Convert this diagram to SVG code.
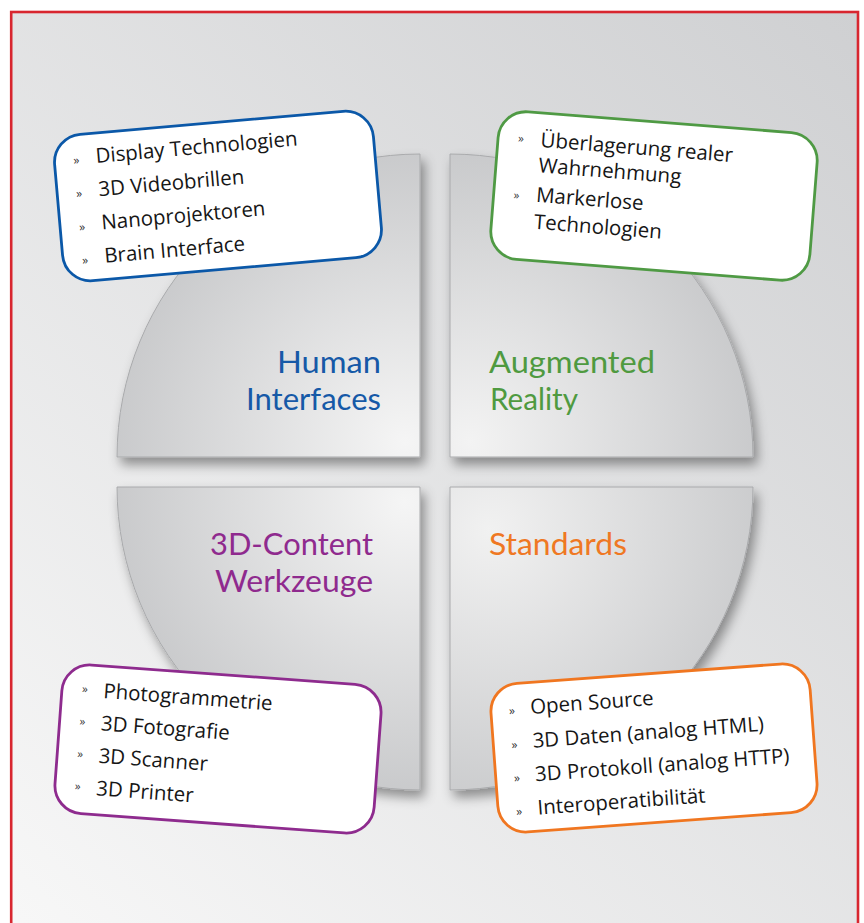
<svg xmlns="http://www.w3.org/2000/svg" width="864" height="923" viewBox="0 0 864 923">
  <defs>
    <linearGradient id="bg" x1="860" y1="15" x2="15" y2="915" gradientUnits="userSpaceOnUse">
      <stop offset="0" stop-color="#cfd0d2"/>
      <stop offset="1" stop-color="#f7f7f7"/>
    </linearGradient>
    <radialGradient id="gTL" cx="405" cy="442" r="330" gradientUnits="userSpaceOnUse">
      <stop offset="0" stop-color="#f5f5f5"/>
      <stop offset="1" stop-color="#c3c4c6"/>
    </radialGradient>
    <radialGradient id="gTR" cx="470" cy="442" r="330" gradientUnits="userSpaceOnUse">
      <stop offset="0" stop-color="#f3f3f3"/>
      <stop offset="1" stop-color="#c3c4c6"/>
    </radialGradient>
    <radialGradient id="gBL" cx="405" cy="502" r="330" gradientUnits="userSpaceOnUse">
      <stop offset="0" stop-color="#f5f5f5"/>
      <stop offset="1" stop-color="#c3c4c6"/>
    </radialGradient>
    <radialGradient id="gBR" cx="490" cy="530" r="330" gradientUnits="userSpaceOnUse">
      <stop offset="0" stop-color="#f1f1f1"/>
      <stop offset="1" stop-color="#c3c4c6"/>
    </radialGradient>
    <filter id="shadow" x="-20%" y="-20%" width="140%" height="140%">
      <feDropShadow dx="4" dy="7" stdDeviation="6" flood-color="#000" flood-opacity="0.4"/>
    </filter>
    <style>
      .quad { stroke: #a9aaac; stroke-width: 1; filter: url(#shadow); }
      .label { font-family: "Lato", "Open Sans", "Liberation Sans", sans-serif; font-size: 30px; }
      .box { fill: #ffffff; stroke-width: 2.8; }
      .item { font-family: "Open Sans", "Liberation Sans", sans-serif; font-size: 20.5px; fill: #161616; }
      .bul { font-family: "Open Sans", "Liberation Sans", sans-serif; font-size: 12px; fill: #333333; }
    </style>
  </defs>

  <rect x="11.2" y="12" width="846.8" height="930" fill="url(#bg)" stroke="#d8262f" stroke-width="2.6"/>

  <g id="quadrants">
    <g id="q-human">
      <path class="quad" d="M420,457 H117 A303,303 0 0 1 420,154 Z" fill="url(#gTL)"/>
      <text class="label" fill="#1659a7" text-anchor="end" x="381" y="373" textLength="104" lengthAdjust="spacingAndGlyphs">Human</text>
      <text class="label" fill="#1659a7" text-anchor="end" x="381" y="410" textLength="135" lengthAdjust="spacingAndGlyphs">Interfaces</text>
    </g>
    <g id="q-ar">
      <path class="quad" d="M450,457 V154 A303,303 0 0 1 753,457 Z" fill="url(#gTR)"/>
      <text class="label" fill="#4f9a40" x="489" y="373" textLength="166" lengthAdjust="spacingAndGlyphs">Augmented</text>
      <text class="label" fill="#4f9a40" x="490" y="410" textLength="88" lengthAdjust="spacingAndGlyphs">Reality</text>
    </g>
    <g id="q-content">
      <path class="quad" d="M420,487 H117 A303,303 0 0 0 420,790 Z" fill="url(#gBL)"/>
      <text class="label" fill="#8f2a8e" text-anchor="end" x="373" y="555" textLength="163" lengthAdjust="spacingAndGlyphs">3D-Content</text>
      <text class="label" fill="#8f2a8e" text-anchor="end" x="373" y="592" textLength="158" lengthAdjust="spacingAndGlyphs">Werkzeuge</text>
    </g>
    <g id="q-standards">
      <path class="quad" d="M450,487 H753 A303,303 0 0 1 450,790 Z" fill="url(#gBR)"/>
      <text class="label" fill="#ef7823" x="489" y="555" textLength="138" lengthAdjust="spacingAndGlyphs">Standards</text>
    </g>
  </g>

  <g id="connectors"/>

  <g id="box-human" transform="rotate(-5 218 196)">
    <rect class="box" stroke="#0b58a8" x="58" y="122.5" width="320" height="147" rx="28"/>
    <text class="bul" x="77" y="152">»</text>
    <text class="item" x="99.5" y="152.5">Display Technologien</text>
    <text class="bul" x="77" y="185.5">»</text>
    <text class="item" x="99.5" y="186">3D Videobrillen</text>
    <text class="bul" x="77" y="219">»</text>
    <text class="item" x="99.5" y="219.3">Nanoprojektoren</text>
    <text class="bul" x="77" y="252.5">»</text>
    <text class="item" x="99.5" y="252.7">Brain Interface</text>
  </g>

  <g id="box-ar" transform="rotate(4.5 654 196)">
    <rect class="box" stroke="#4f9a44" x="494" y="122" width="320" height="148" rx="28"/>
    <text class="bul" x="514" y="153">»</text>
    <text class="item" x="536.5" y="156">Überlagerung realer</text>
    <text class="item" x="536.5" y="181.5">Wahrnehmung</text>
    <text class="bul" x="514" y="210">»</text>
    <text class="item" x="536.5" y="211">Markerlose</text>
    <text class="item" x="536.5" y="238">Technologien</text>
  </g>

  <g id="box-content" transform="rotate(4.2 218 749)">
    <rect class="box" stroke="#8e2b8e" x="58" y="674.5" width="320" height="149" rx="28"/>
    <text class="bul" x="78" y="703">»</text>
    <text class="item" x="99.5" y="706.5">Photogrammetrie</text>
    <text class="bul" x="78" y="735.5">»</text>
    <text class="item" x="99.5" y="739">3D Fotografie</text>
    <text class="bul" x="78" y="768">»</text>
    <text class="item" x="99.5" y="771.5">3D Scanner</text>
    <text class="bul" x="78" y="800.5">»</text>
    <text class="item" x="99.5" y="804">3D Printer</text>
  </g>

  <g id="box-standards" transform="rotate(-4.2 654 748)">
    <rect class="box" stroke="#f07620" x="494" y="673.5" width="320" height="149" rx="28"/>
    <text class="bul" x="512" y="704.5">»</text>
    <text class="item" x="533.5" y="705">Open Source</text>
    <text class="bul" x="512" y="738.5">»</text>
    <text class="item" x="533.5" y="739">3D Daten (analog HTML)</text>
    <text class="bul" x="512" y="772">»</text>
    <text class="item" x="533.5" y="772.5">3D Protokoll (analog HTTP)</text>
    <text class="bul" x="512" y="805.5">»</text>
    <text class="item" x="533.5" y="806">Interoperatibilität</text>
  </g>
</svg>
